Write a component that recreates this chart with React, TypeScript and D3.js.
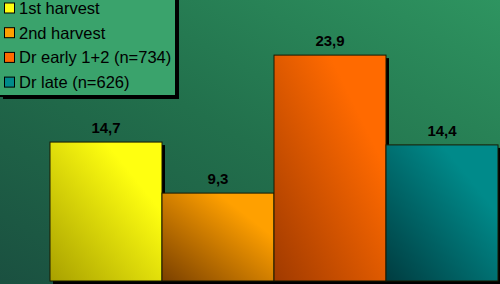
import React from "react";
import * as d3 from "d3";

const categories = ["1st harvest", "2nd harvest", "Dr early 1+2 (n=734)", "Dr late (n=626)"];
const values = [14.7, 9.3, 23.9, 14.4];
const valueLabels = ["14,7", "9,3", "23,9", "14,4"];
const lightColors = ["#ffff10", "#ffa000", "#ff6a00", "#008a8a"];
const darkColors = ["#a8a000", "#7a4000", "#a03a00", "#003c40"];

const W = 500;
const H = 284;

export default function App() {
  const x = d3.scaleBand<string>().domain(categories).range([50, 498]).paddingInner(0).paddingOuter(0);
  const y = d3.scaleLinear().domain([0, 29.73]).range([281, 0]);

  return (
    <svg width={W} height={H} style={{ position: "absolute", left: 0, top: 0 }}>
      <defs>
        <linearGradient id="bg" x1="0" y1="1" x2="1" y2="0">
          <stop offset="0" stopColor="#1a5040" />
          <stop offset="0.5" stopColor="#22704c" />
          <stop offset="1" stopColor="#2e9460" />
        </linearGradient>
        {categories.map((c, i) => (
          <linearGradient key={c} id={`g${i}`} x1="0" y1="1" x2="1" y2="0">
            <stop offset="0" stopColor={darkColors[i]} />
            <stop offset="0.75" stopColor={lightColors[i]} />
            <stop offset="1" stopColor={lightColors[i]} />
          </linearGradient>
        ))}
      </defs>
      <rect x={0} y={0} width={W} height={H} fill="url(#bg)" />
      {categories.map((c, i) => {
        const x0 = x(c)!;
        const bw = x.bandwidth();
        const y0 = y(values[i]);
        return (
          <g key={c}>
            <rect x={x0 + 3} y={y0 + 3} width={bw} height={y(0) - y0} fill="#000" />
            <rect x={x0} y={y0} width={bw} height={y(0) - y0} fill={`url(#g${i})`} stroke="#1a1a00" strokeWidth={1} />
            <text
              x={x0 + bw / 2}
              y={y0 - 9}
              textAnchor="middle"
              fontFamily="Liberation Sans, Arial, sans-serif"
              fontWeight="bold"
              fontSize={15}
              fill="#000"
            >
              {valueLabels[i]}
            </text>
          </g>
        );
      })}
      <rect x={3} y={-2} width={176} height={101} fill="#000" />
      <rect x={-1} y={-2} width={177} height={98} fill="#3aa36c" stroke="#000" strokeWidth={2} />
      {categories.map((c, i) => {
        const cy = 8 + i * 24.7;
        return (
          <g key={c}>
            <rect x={4.5} y={cy - 5} width={10} height={10} fill={lightColors[i]} stroke="#000" strokeWidth={1} />
            <text
              x={19}
              y={cy + 6}
              fontFamily="Liberation Sans, Arial, sans-serif"
              fontSize={16.5}
              fill="#000"
            >
              {c}
            </text>
          </g>
        );
      })}
    </svg>
  );
}
